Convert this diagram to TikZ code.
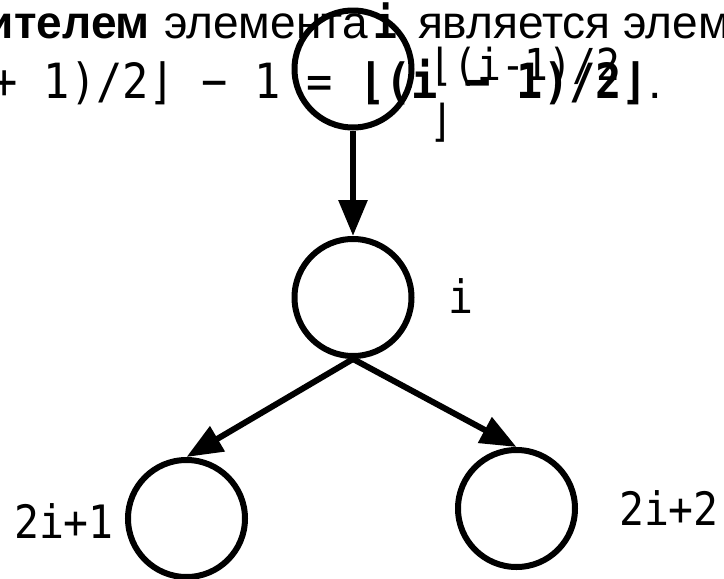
\documentclass[tikz,border=0pt]{standalone}
\usepackage{fontspec}
\setmainfont{Liberation Sans}
\newfontfamily\monofont[FakeStretch=0.9]{DejaVu Sans Mono}
\usetikzlibrary{arrows.meta}
\begin{document}
\begin{tikzpicture}[x=1pt,y=-1pt,
  circ/.style={circle,draw,line width=6pt,minimum size=117pt,inner sep=0pt},
  arr/.style={line width=6pt,-{Triangle[length=36pt,width=28pt]}},
  txt/.style={inner sep=0pt,outer sep=0pt},
  lbl/.style={inner sep=0pt,outer sep=0pt,font=\monofont\fontsize{46}{50}\selectfont},
  toplbl/.style={inner sep=0pt,outer sep=0pt,font=\monofont\fontsize{44}{50}\selectfont}]
\useasboundingbox (0,0) rectangle (724,579);
\clip (0,0) rectangle (724,579);
% top text, line 1
\begin{scope}[every node/.style={font=\fontsize{46}{50}\selectfont}]
\node[txt,anchor=base east] (t1a) at (150,38) {\bfseries ителем};
\node[txt,anchor=base west] (t1b) at (164,38) {элемента};
\node[txt,anchor=base] (t1c) at (385,38) {\monofont\fontsize{44}{50}\selectfont\bfseries i};
\node[txt,anchor=base west] (t1d) at (418,38) {является элем};
\end{scope}
% top text, line 2
\node[txt,anchor=base west,font=\monofont\fontsize{48.5}{50}\selectfont] (t2) at (-8.75,98)
  {+ 1)/2⌋ − 1 = {\bfseries ⌊(i − 1)/2⌋}{\rmfamily .}};
% circles
\node[circ] (top) at (353,69) {};
\node[circ] (mid) at (353,297.5) {};
\node[circ] (bl) at (186.5,518.5) {};
\node[circ] (br) at (516.5,508.5) {};
% labels
\node[toplbl,anchor=base west] (ltop) at (429.5,80) {⌊(i-1)/2};
\node[toplbl,anchor=base west] (ltopb) at (429.5,136) {⌋};
\node[lbl,anchor=base] (lmid) at (461,313) {i};
\node[lbl,anchor=base] (lbl) at (64,538) {2i+1};
\node[lbl,anchor=base] (lbr) at (669,525) {2i+2};
% arrows
\draw[arr] (top.south) -- (mid.north);
\draw[arr] (mid.south) -- (bl.north);
\draw[arr] (mid.south) -- (br.north);
\end{tikzpicture}
\end{document}
